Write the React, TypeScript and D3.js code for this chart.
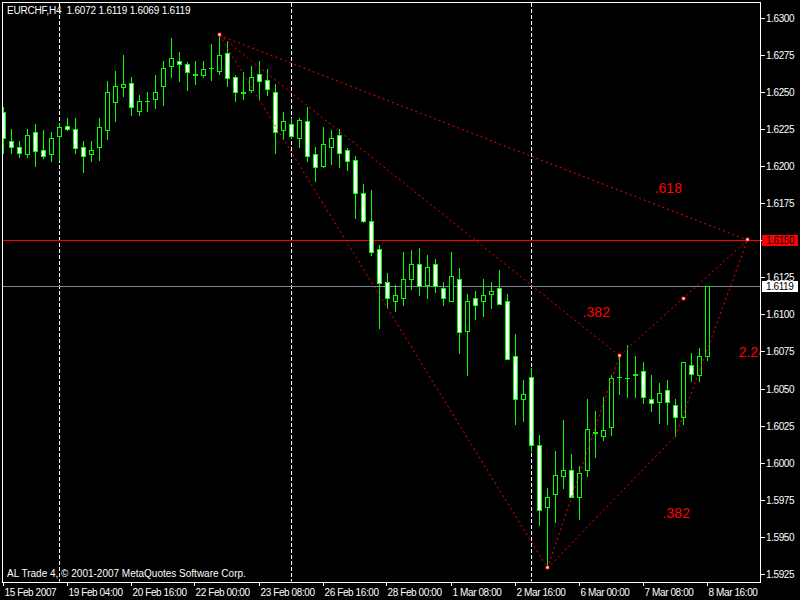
import React, { useEffect, useRef } from "react";
import * as d3 from "d3";

const symbolTitle = "EURCHF,H4  1.6072 1.6119 1.6069 1.6119";
const copyright = "AL Trade 4, © 2001-2007 MetaQuotes Software Corp.";

// H4 bars, 15 Feb 2007 20:00 .. 8 Mar 2007 16:00
const opens = [
  1.6236, 1.6217, 1.6213, 1.6208, 1.6223, 1.6211, 1.6208, 1.622, 1.6227, 1.6225,
  1.6213, 1.6208, 1.6213, 1.6224, 1.6243, 1.6253, 1.6256, 1.6237, 1.6244, 1.6245,
  1.6254, 1.6267, 1.6271, 1.6269, 1.6261, 1.6261, 1.6266, 1.6264, 1.6276, 1.626,
  1.625, 1.6251, 1.6262, 1.6258, 1.625, 1.6224, 1.6228, 1.6219, 1.623, 1.6208,
  1.62, 1.6213, 1.6221, 1.6211, 1.6204, 1.6182, 1.6163, 1.6144, 1.6122, 1.6109,
  1.6111, 1.6124, 1.6134, 1.612, 1.6134, 1.6118, 1.6109, 1.6124, 1.6089, 1.6111,
  1.6109, 1.6114, 1.6118, 1.6109, 1.6072, 1.6043, 1.6058, 1.6012, 1.597, 1.5979,
  1.5991, 1.5995, 1.5977, 1.5995, 1.602, 1.6018, 1.6024, 1.6058, 1.6057, 1.606,
  1.6062, 1.6043, 1.6041, 1.6049, 1.6039, 1.6031, 1.6066, 1.6059, 1.6072,
];
const highs = [
  1.624, 1.6225, 1.6217, 1.6225, 1.6228, 1.6224, 1.6223, 1.6229, 1.6232, 1.6232,
  1.6217, 1.6217, 1.6232, 1.6257, 1.6264, 1.6275, 1.626, 1.6248, 1.625, 1.6261,
  1.6271, 1.6286, 1.6277, 1.627, 1.6271, 1.6271, 1.6282, 1.6288, 1.6284, 1.6261,
  1.6263, 1.6267, 1.6271, 1.6265, 1.6255, 1.6236, 1.6232, 1.6232, 1.624, 1.6213,
  1.6226, 1.6224, 1.6225, 1.6212, 1.6207, 1.6188, 1.6184, 1.6147, 1.6128, 1.612,
  1.6142, 1.6143, 1.6145, 1.614, 1.6137, 1.6122, 1.6142, 1.6131, 1.6114, 1.6116,
  1.6124, 1.6122, 1.613, 1.6114, 1.6087, 1.6056, 1.6064, 1.6019, 1.5983, 1.6008,
  1.6029, 1.6006, 1.5998, 1.6043, 1.6035, 1.6044, 1.6059, 1.6073, 1.6079, 1.6072,
  1.6068, 1.6059, 1.6054, 1.6056, 1.6043, 1.6068, 1.6074, 1.6077, 1.6119,
];
const lows = [
  1.6209, 1.6209, 1.6206, 1.6206, 1.62, 1.6205, 1.6203, 1.6204, 1.6224, 1.6209,
  1.6196, 1.6203, 1.6204, 1.6218, 1.623, 1.6247, 1.6234, 1.6234, 1.6237, 1.6239,
  1.6241, 1.626, 1.6257, 1.6251, 1.6255, 1.626, 1.6258, 1.6262, 1.6254, 1.6244,
  1.6245, 1.625, 1.6245, 1.6248, 1.6209, 1.6218, 1.6219, 1.6213, 1.6203, 1.619,
  1.6199, 1.6201, 1.6199, 1.6197, 1.6165, 1.6162, 1.614, 1.6091, 1.6104, 1.6102,
  1.6106, 1.6117, 1.6113, 1.6111, 1.6115, 1.6106, 1.6109, 1.6074, 1.6059, 1.6097,
  1.6099, 1.6104, 1.6107, 1.607, 1.6026, 1.6028, 1.6008, 1.5958, 1.5929, 1.596,
  1.5983, 1.5977, 1.5962, 1.5991, 1.6004, 1.6015, 1.6019, 1.6046, 1.6044, 1.6044,
  1.604, 1.6035, 1.6027, 1.6026, 1.6018, 1.6026, 1.6055, 1.6055, 1.6069,
];
const closes = [
  1.6219, 1.6213, 1.6209, 1.6221, 1.621, 1.6207, 1.6219, 1.6226, 1.6225, 1.6212,
  1.6207, 1.6211, 1.6226, 1.625, 1.6254, 1.6255, 1.624, 1.6244, 1.6244, 1.625,
  1.6266, 1.6273, 1.6269, 1.6263, 1.6262, 1.6265, 1.6266, 1.6275, 1.6259, 1.625,
  1.6249, 1.626, 1.6257, 1.6252, 1.6223, 1.623, 1.622, 1.6231, 1.6207, 1.6199,
  1.6215, 1.6219, 1.6209, 1.6203, 1.6182, 1.6163, 1.6142, 1.6121, 1.6111, 1.6113,
  1.6124, 1.6134, 1.6119, 1.6132, 1.6119, 1.6111, 1.6126, 1.6088, 1.6109, 1.6106,
  1.6113, 1.6116, 1.6107, 1.607, 1.6043, 1.6046, 1.6012, 1.5968, 1.5977, 1.5992,
  1.5995, 1.5977, 1.5993, 1.6023, 1.6021, 1.6022, 1.6057, 1.6058, 1.6057, 1.6059,
  1.6044, 1.604, 1.6047, 1.6041, 1.6031, 1.6068, 1.606, 1.6072, 1.6119,
];

const timeLabels = [
  "15 Feb 2007", "19 Feb 04:00", "20 Feb 16:00", "22 Feb 00:00", "23 Feb 08:00",
  "26 Feb 16:00", "28 Feb 00:00", "1 Mar 08:00", "2 Mar 16:00", "6 Mar 00:00",
  "7 Mar 08:00", "8 Mar 16:00",
];
const timeLabelBars = [0, 8, 16, 24, 32, 40, 48, 56, 64, 72, 80, 88];
const weekSeparatorBars = [7, 36, 66];

const priceTicks = [
  1.63, 1.6275, 1.625, 1.6225, 1.62, 1.6175, 1.615, 1.6125, 1.61, 1.6075,
  1.605, 1.6025, 1.6, 1.5975, 1.595, 1.5925,
];

const levelPrice = 1.615;
const bidPrice = 1.6119;

// harmonic pattern pivots
const pivotNames = ["X", "A", "B", "C", "D"];
const pivotBars = [27, 68, 77, 84, 93];
const pivotPrices = [1.6288, 1.5929, 1.6072, 1.6018, 1.615];
const patternLegs = [["X", "A"], ["A", "B"], ["X", "B"], ["A", "C"], ["B", "D"], ["C", "D"], ["X", "D"]];
const markerBars = [27, 68, 77, 85, 93];
const markerPrices = [1.6288, 1.5929, 1.6072, 1.611, 1.615];
const ratioTexts = [".618", ".382", "2.24", ".382"];
const ratioBars = [81.4, 72.4, 91.9, 82.4];
const ratioPrices = [1.6182, 1.6098, 1.6071, 1.5963];

const W = 800;
const H = 600;
const FONT = "'Liberation Sans', Arial, sans-serif";

const App: React.FC = () => {
  const svgRef = useRef<SVGSVGElement>(null);

  useEffect(() => {
    if (!svgRef.current) return;
    const plot = { left: 2.5, top: 2.5, right: 760.5, bottom: 582 };

    const svg = d3.select(svgRef.current).html("");
    svg.append("rect").attr("width", W).attr("height", H).attr("fill", "#000");

    const x = d3.scaleLinear().domain([0, 88]).range([3.5, 707.5]);
    const y = d3.scaleLinear().domain([1.5925, 1.63]).range([574, 17.5]);

    svg
      .append("defs")
      .append("clipPath")
      .attr("id", "plotClip")
      .append("rect")
      .attr("x", 3)
      .attr("y", 3)
      .attr("width", 757)
      .attr("height", 578.5);

    const g = svg.append("g").attr("clip-path", "url(#plotClip)");

    // week separators
    g.selectAll("line.sep")
      .data(weekSeparatorBars)
      .join("line")
      .attr("x1", (d) => x(d))
      .attr("x2", (d) => x(d))
      .attr("y1", 3)
      .attr("y2", plot.bottom)
      .attr("stroke", "#fff")
      .attr("stroke-dasharray", "4,2")
      .attr("shape-rendering", "crispEdges");

    // level + bid lines
    g.append("line")
      .attr("x1", 3).attr("x2", plot.right)
      .attr("y1", Math.round(y(levelPrice)) + 0.5)
      .attr("y2", Math.round(y(levelPrice)) + 0.5)
      .attr("stroke", "#ff0000");
    g.append("line")
      .attr("x1", 3).attr("x2", plot.right)
      .attr("y1", Math.round(y(bidPrice)) + 0.5)
      .attr("y2", Math.round(y(bidPrice)) + 0.5)
      .attr("stroke", "#778899");

    // candles
    const bars = d3.range(opens.length);
    const candle = g.selectAll("g.candle").data(bars).join("g");
    candle
      .append("line")
      .attr("x1", (i) => x(i))
      .attr("x2", (i) => x(i))
      .attr("y1", (i) => Math.round(y(highs[i])))
      .attr("y2", (i) => Math.round(y(lows[i])) + 1)
      .attr("stroke", "#00ff00")
      .attr("shape-rendering", "crispEdges");
    candle.each(function (i) {
      const c = d3.select(this);
      const top = Math.round(y(Math.max(opens[i], closes[i]))) + 0.5;
      const bot = Math.round(y(Math.min(opens[i], closes[i]))) + 0.5;
      if (bot - top < 1) {
        c.append("line")
          .attr("x1", x(i) - 2.5)
          .attr("x2", x(i) + 2.5)
          .attr("y1", top)
          .attr("y2", top)
          .attr("stroke", "#00ff00")
          .attr("shape-rendering", "crispEdges");
      } else {
        c.append("rect")
          .attr("x", x(i) - 2)
          .attr("y", top)
          .attr("width", 4)
          .attr("height", bot - top)
          .attr("fill", closes[i] < opens[i] ? "#fff" : "#000")
          .attr("stroke", "#00ff00")
          .attr("shape-rendering", "crispEdges");
      }
    });

    // pattern legs
    const pivot = (n: string) => {
      const k = pivotNames.indexOf(n);
      return [x(pivotBars[k]), y(pivotPrices[k])];
    };
    g.selectAll("line.leg")
      .data(patternLegs)
      .join("line")
      .attr("x1", (d) => pivot(d[0])[0])
      .attr("y1", (d) => pivot(d[0])[1])
      .attr("x2", (d) => pivot(d[1])[0])
      .attr("y2", (d) => pivot(d[1])[1])
      .attr("stroke", "#ff0000")
      .attr("stroke-dasharray", "2,3");

    g.selectAll("rect.mark")
      .data(markerBars)
      .join("rect")
      .attr("x", (d) => Math.round(x(d)) - 2)
      .attr("y", (d, i) => Math.round(y(markerPrices[i])) - 2)
      .attr("width", 3)
      .attr("height", 3)
      .attr("fill", "#fff")
      .attr("stroke", "#ff0000")
      .attr("stroke-width", 0.8);

    g.selectAll("text.ratio")
      .data(ratioTexts)
      .join("text")
      .attr("x", (d, i) => x(ratioBars[i]))
      .attr("y", (d, i) => y(ratioPrices[i]))
      .attr("fill", "#ff0000")
      .attr("font-family", FONT)
      .attr("font-size", 14)
      .text((d) => d);

    // frame
    svg
      .append("rect")
      .attr("x", plot.left)
      .attr("y", plot.top)
      .attr("width", plot.right - plot.left)
      .attr("height", plot.bottom - plot.top)
      .attr("fill", "none")
      .attr("stroke", "#fff")
      .attr("shape-rendering", "crispEdges");

    // price axis
    const yAxis = svg.append("g");
    priceTicks.forEach((p) => {
      const py = Math.round(y(p)) + 0.5;
      yAxis.append("line").attr("x1", 761).attr("x2", 765).attr("y1", py).attr("y2", py)
        .attr("stroke", "#fff").attr("shape-rendering", "crispEdges");
      yAxis.append("text").attr("x", 766).attr("y", py).attr("dy", "0.36em")
        .attr("fill", "#fff").attr("font-family", FONT).attr("font-size", 10)
        .attr("letter-spacing", -0.4).text(p.toFixed(4));
    });

    const priceBox = (p: string, v: number, bg: string) => {
      const py = Math.round(y(v));
      yAxis.append("rect").attr("x", 762).attr("y", py - 5).attr("width", 36).attr("height", 11)
        .attr("fill", bg);
      yAxis.append("text").attr("x", 766).attr("y", py + 0.5).attr("dy", "0.36em")
        .attr("fill", "#000").attr("font-family", FONT).attr("font-size", 10)
        .attr("letter-spacing", -0.4).text(p);
    };
    priceBox(levelPrice.toFixed(4), levelPrice, "#ff0000");
    priceBox(bidPrice.toFixed(4), bidPrice, "#fff");

    // time axis
    const xAxis = svg.append("g");
    timeLabelBars.forEach((b, i) => {
      const px = Math.round(x(b)) - 0.5;
      xAxis.append("line").attr("x1", px).attr("x2", px).attr("y1", 582).attr("y2", 586)
        .attr("stroke", "#fff").attr("shape-rendering", "crispEdges");
      xAxis.append("text").attr("x", px + 1).attr("y", 596)
        .attr("fill", "#fff").attr("font-family", FONT).attr("font-size", 10)
        .attr("letter-spacing", -0.4).text(timeLabels[i]);
    });

    svg.append("text").attr("x", 7).attr("y", 14).attr("fill", "#fff")
      .attr("font-family", FONT).attr("font-size", 10).attr("letter-spacing", -0.2)
      .style("white-space", "pre").text(symbolTitle);
    svg.append("text").attr("x", 7).attr("y", 577).attr("fill", "#fff")
      .attr("font-family", FONT).attr("font-size", 10).attr("letter-spacing", 0)
      .text(copyright);
  }, []);

  return (
    <svg
      ref={svgRef}
      width={W}
      height={H}
      style={{ position: "absolute", left: 0, top: 0, background: "#000" }}
    />
  );
};

export default App;
